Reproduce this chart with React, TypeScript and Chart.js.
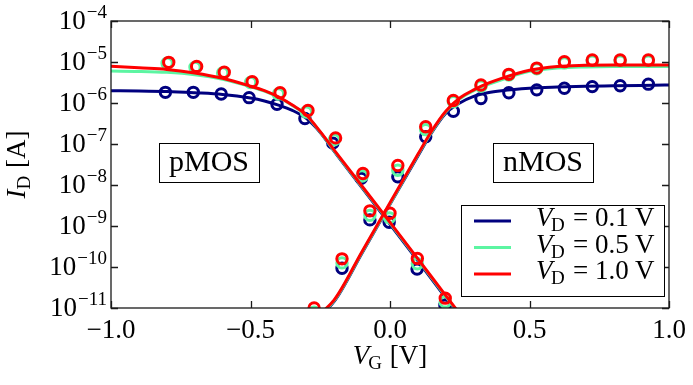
import { useEffect, useRef } from 'react';
import { Chart, registerables } from 'chart.js';

Chart.register(...registerables);

// ---- axis ticks ----
const xTickValues = [-1.0, -0.5, 0.0, 0.5, 1.0];
const xTickLabels = ['−1.0', '−0.5', '0.0', '0.5', '1.0'];
const yTickValues = [1e-4, 1e-5, 1e-6, 1e-7, 1e-8, 1e-9, 1e-10, 1e-11];
const yTickExponents = ['−4', '−5', '−6', '−7', '−8', '−9', '−10', '−11'];

// ---- series ----
const drainVoltages = ['0.1', '0.5', '1.0'];
const seriesColors = ['#00007f', '#5cf5a2', '#ff0000'];

// measured points, pMOS branch (V_G in V, I_D in A)
const pmosVg01 = [-0.805, -0.705, -0.605, -0.505, -0.405, -0.305, -0.205, -0.103, -0.003, 0.097, 0.197];
const pmosId01 = [1.82e-6, 1.82e-6, 1.66e-6, 1.35e-6, 9.3e-7, 4.17e-7, 1.05e-7, 1.45e-8, 1.23e-9, 8.9e-11, 1.17e-11];
const pmosVg05 = [-0.799, -0.699, -0.6, -0.5, -0.4, -0.3, -0.2, -0.1, -0.002, 0.098, 0.198];
const pmosId05 = [9.3e-6, 7.4e-6, 5.4e-6, 3.16e-6, 1.66e-6, 6.0e-7, 1.26e-7, 1.66e-8, 1.58e-9, 1.2e-10, 1.41e-11];
const pmosVg10 = [-0.793, -0.693, -0.594, -0.494, -0.394, -0.294, -0.195, -0.097, 0.0, 0.098, 0.198];
const pmosId10 = [9.8e-6, 7.8e-6, 5.6e-6, 3.3e-6, 1.78e-6, 6.6e-7, 1.41e-7, 1.9e-8, 2.04e-9, 1.62e-10, 1.74e-11];

// measured points, nMOS branch
const nmosVg = [-0.272, -0.172, -0.072, 0.028, 0.128, 0.227, 0.326, 0.426, 0.526, 0.625, 0.725, 0.825, 0.926];
const nmosId01 = [6.3e-12, 9.3e-11, 1.41e-9, 1.58e-8, 1.51e-7, 6.3e-7, 1.29e-6, 1.78e-6, 2.09e-6, 2.29e-6, 2.51e-6, 2.63e-6, 2.88e-6];
const nmosId05 = [7.9e-12, 1.26e-10, 1.82e-9, 2.29e-8, 2.24e-7, 1.07e-6, 2.57e-6, 4.8e-6, 6.8e-6, 9.5e-6, 1.05e-5, 1.05e-5, 1.05e-5];
const nmosId10 = [1.0e-11, 1.58e-10, 2.34e-9, 3.0e-8, 2.63e-7, 1.15e-6, 2.75e-6, 5.0e-6, 7.1e-6, 1.02e-5, 1.12e-5, 1.12e-5, 1.12e-5];

// model curves, pMOS branch
const pmosModelVg = [-1.0, -0.9, -0.8, -0.7, -0.6, -0.5, -0.45, -0.4, -0.35, -0.3, -0.25, -0.2, -0.1, 0.0, 0.1, 0.2, 0.3];
const pmosModel01 = [2.0e-6, 1.95e-6, 1.91e-6, 1.78e-6, 1.62e-6, 1.32e-6, 1.12e-6, 8.9e-7, 6.6e-7, 4.2e-7, 1.91e-7, 6.6e-8, 8.5e-9, 1.1e-9, 1.41e-10, 1.78e-11, 2.3e-12];
const pmosModel05 = [6.0e-6, 5.9e-6, 5.6e-6, 4.9e-6, 3.8e-6, 2.51e-6, 1.95e-6, 1.38e-6, 8.7e-7, 5.0e-7, 1.95e-7, 6.8e-8, 8.9e-9, 1.17e-9, 1.51e-10, 1.9e-11, 2.5e-12];
const pmosModel10 = [7.9e-6, 7.2e-6, 6.6e-6, 5.4e-6, 4.0e-6, 2.57e-6, 2.0e-6, 1.41e-6, 8.9e-7, 5.1e-7, 2.0e-7, 7.1e-8, 9.3e-9, 1.23e-9, 1.58e-10, 2.0e-11, 2.6e-12];

// model curves, nMOS branch
const nmosModelVg = [-0.3, -0.2, -0.1, 0.0, 0.1, 0.15, 0.2, 0.25, 0.3, 0.35, 0.4, 0.5, 0.6, 0.7, 0.8, 0.9, 1.0];
const nmosModel01 = [3.6e-12, 1.45e-11, 2.2e-10, 3.4e-9, 5.1e-8, 1.91e-7, 5.6e-7, 1.0e-6, 1.45e-6, 1.78e-6, 2.0e-6, 2.29e-6, 2.45e-6, 2.57e-6, 2.63e-6, 2.69e-6, 2.75e-6];
const nmosModel05 = [3.8e-12, 1.51e-11, 2.3e-10, 3.5e-9, 5.4e-8, 2.0e-7, 6.0e-7, 1.26e-6, 2.0e-6, 2.8e-6, 3.7e-6, 5.9e-6, 7.1e-6, 7.6e-6, 7.8e-6, 7.8e-6, 7.8e-6];
const nmosModel10 = [4.0e-12, 1.58e-11, 2.4e-10, 3.7e-9, 5.6e-8, 2.1e-7, 6.3e-7, 1.32e-6, 2.09e-6, 3.0e-6, 4.0e-6, 6.3e-6, 7.8e-6, 8.3e-6, 8.5e-6, 8.5e-6, 8.5e-6];

const SERIF = '"Liberation Serif", "DejaVu Serif", serif';

const zip = (xs: number[], ys: number[]) => xs.map((x, i) => ({ x, y: ys[i] }));

function buildDatasets() {
  const marks = [
    [zip(pmosVg01, pmosId01), zip(nmosVg, nmosId01)],
    [zip(pmosVg05, pmosId05), zip(nmosVg, nmosId05)],
    [zip(pmosVg10, pmosId10), zip(nmosVg, nmosId10)],
  ];
  const models = [
    [zip(pmosModelVg, pmosModel01), zip(nmosModelVg, nmosModel01)],
    [zip(pmosModelVg, pmosModel05), zip(nmosModelVg, nmosModel05)],
    [zip(pmosModelVg, pmosModel10), zip(nmosModelVg, nmosModel10)],
  ];
  const ds: any[] = [];
  drainVoltages.forEach((_, i) => {
    const color = seriesColors[i];
    const base = (2 - i) * 10;
    marks[i].forEach((data) => {
      ds.push({
        data,
        showLine: false,
        pointStyle: 'circle',
        pointRadius: 5.2,
        pointBorderWidth: 3,
        pointBorderColor: color,
        pointBackgroundColor: 'rgba(0,0,0,0)',
        borderColor: color,
        clip: 0,
        order: base + 5,
      });
    });
    models[i].forEach((data) => {
      ds.push({
        data,
        borderColor: color,
        borderWidth: 3,
        pointRadius: 0,
        fill: false,
        cubicInterpolationMode: 'monotone',
        clip: 0,
        order: base + 4,
      });
    });
  });
  return ds;
}

function drawSubText(ctx: CanvasRenderingContext2D, parts: { t: string; f: string; dy?: number; dx?: number }[], x: number, y: number, align: 'left' | 'center') {
  let total = 0;
  const widths = parts.map((p) => {
    ctx.font = p.f;
    const w = ctx.measureText(p.t).width + (p.dx || 0);
    total += w;
    return w;
  });
  let cx = align === 'center' ? x - total / 2 : x;
  ctx.textAlign = 'left';
  parts.forEach((p, i) => {
    ctx.font = p.f;
    ctx.fillText(p.t, cx, y + (p.dy || 0));
    cx += widths[i];
  });
}

const overlayPlugin = {
  id: 'overlay',
  afterDatasetsDraw(chart: any) {
    const { ctx, chartArea: a, scales } = chart;
    const xs = scales.x;
    const ys = scales.y;
    ctx.save();

    // frame
    ctx.strokeStyle = '#1a1a1a';
    ctx.lineWidth = 1.3;
    ctx.strokeRect(a.left, a.top, a.right - a.left, a.bottom - a.top);

    // inward ticks
    ctx.beginPath();
    xTickValues.forEach((v) => {
      const p = Math.round(xs.getPixelForValue(v)) + 0.5;
      ctx.moveTo(p, a.bottom);
      ctx.lineTo(p, a.bottom - 7);
      ctx.moveTo(p, a.top);
      ctx.lineTo(p, a.top + 7);
    });
    yTickValues.forEach((v) => {
      const p = Math.round(ys.getPixelForValue(v)) + 0.5;
      ctx.moveTo(a.left, p);
      ctx.lineTo(a.left + 7, p);
      ctx.moveTo(a.right, p);
      ctx.lineTo(a.right - 7, p);
    });
    ctx.stroke();

    ctx.fillStyle = '#000';
    ctx.textBaseline = 'alphabetic';

    // x tick labels
    ctx.font = `27px ${SERIF}`;
    ctx.textAlign = 'center';
    xTickValues.forEach((v, i) => {
      ctx.fillText(xTickLabels[i], xs.getPixelForValue(v), a.bottom + 30);
    });

    // y tick labels 10^n
    yTickValues.forEach((v, i) => {
      const p = ys.getPixelForValue(v);
      ctx.textAlign = 'right';
      ctx.font = `19px ${SERIF}`;
      const ex = yTickExponents[i];
      const ew = ctx.measureText(ex).width;
      const rx = a.left - 4;
      ctx.fillText(ex, rx, p - 3);
      ctx.font = `27px ${SERIF}`;
      ctx.fillText('10', rx - ew - 1, p + 8);
    });

    // x axis title
    drawSubText(
      ctx,
      [
        { t: 'V', f: `italic 27px ${SERIF}`, dx: -1 },
        { t: 'G', f: `19px ${SERIF}`, dy: 5, dx: 8 },
        { t: '[V]', f: `27px ${SERIF}` },
      ],
      (a.left + a.right) / 2,
      a.bottom + 56,
      'center'
    );

    // y axis title (rotated)
    ctx.save();
    ctx.translate(25, (a.top + a.bottom) / 2);
    ctx.rotate(-Math.PI / 2);
    drawSubText(
      ctx,
      [
        { t: 'I', f: `italic 27px ${SERIF}`, dx: 0 },
        { t: 'D', f: `19px ${SERIF}`, dy: 5, dx: 8 },
        { t: '[A]', f: `27px ${SERIF}` },
      ],
      0,
      0,
      'center'
    );
    ctx.restore();

    // pMOS / nMOS boxed labels
    const boxes = [
      { t: 'pMOS', x: a.left + 48, y: a.top + 122 },
      { t: 'nMOS', x: a.left + 382, y: a.top + 122 },
    ];
    boxes.forEach((b) => {
      ctx.fillStyle = '#fff';
      ctx.fillRect(b.x, b.y, 100, 39);
      ctx.strokeStyle = '#000';
      ctx.lineWidth = 1;
      ctx.strokeRect(b.x + 0.5, b.y + 0.5, 100, 39);
      ctx.fillStyle = '#000';
      ctx.font = `30px ${SERIF}`;
      ctx.textAlign = 'center';
      ctx.fillText(b.t, b.x + 50, b.y + 28);
    });

    // legend
    const lx = a.left + 350;
    const ly = a.top + 184;
    ctx.fillStyle = '#fff';
    ctx.fillRect(lx, ly, 203, 91);
    ctx.strokeStyle = '#000';
    ctx.lineWidth = 1;
    ctx.strokeRect(lx + 0.5, ly + 0.5, 203, 91);
    drainVoltages.forEach((vd, i) => {
      const rowY = ly + 16 + i * 26.5;
      ctx.strokeStyle = seriesColors[i];
      ctx.lineWidth = 3;
      ctx.beginPath();
      ctx.moveTo(lx + 13, rowY);
      ctx.lineTo(lx + 50, rowY);
      ctx.stroke();
      ctx.fillStyle = '#000';
      ctx.textAlign = 'left';
      ctx.font = `italic 27px ${SERIF}`;
      ctx.fillText('V', lx + 75, rowY + 5);
      ctx.font = `19px ${SERIF}`;
      ctx.fillText('D', lx + 90, rowY + 10);
      ctx.font = `27px ${SERIF}`;
      ctx.fillText('=', lx + 112, rowY + 5);
      ctx.fillText(vd, lx + 134, rowY + 5);
      ctx.fillText('V', lx + 174, rowY + 5);
    });

    ctx.restore();
  },
};

export default function App() {
  const canvasRef = useRef<HTMLCanvasElement | null>(null);

  useEffect(() => {
    const canvas = canvasRef.current;
    if (!canvas) return;
    const chart = new Chart(canvas, {
      type: 'line',
      data: { datasets: buildDatasets() },
      options: {
        animation: false,
        responsive: false,
        devicePixelRatio: 1,
        parsing: true,
        layout: { padding: { left: 111, top: 21, right: 24, bottom: 77 } },
        scales: {
          x: { type: 'linear', min: -1, max: 1, display: false },
          y: { type: 'logarithmic', min: 1e-11, max: 1e-4, display: false },
        },
        plugins: {
          legend: { display: false },
          tooltip: { enabled: false },
        },
      },
      plugins: [overlayPlugin],
    } as any);
    return () => chart.destroy();
  }, []);

  return (
    <div style={{ position: 'fixed', left: 0, top: 0, width: 693, height: 385, background: '#fff' }}>
      <canvas ref={canvasRef} width={693} height={385} style={{ display: 'block', width: 693, height: 385 }} />
    </div>
  );
}
